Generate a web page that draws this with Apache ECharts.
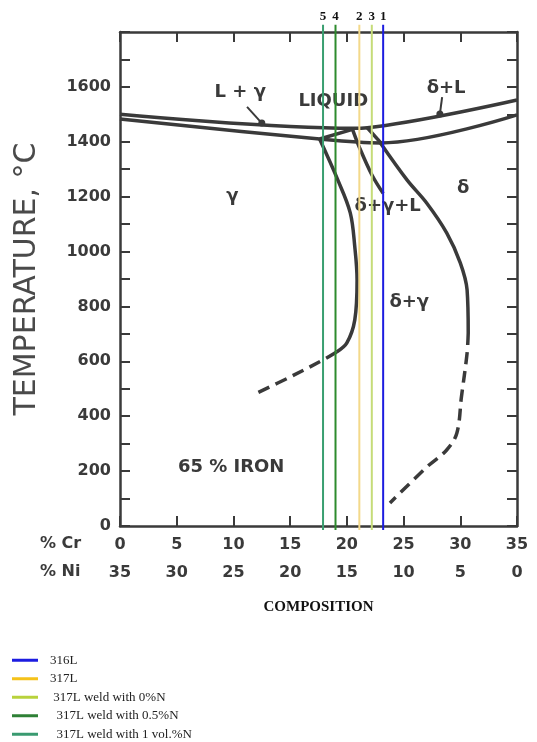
<!DOCTYPE html>
<html>
<head>
<meta charset="utf-8">
<script src="https://cdn.jsdelivr.net/npm/echarts@6/dist/echarts.min.js"></script>
<style>
  html, body { margin: 0; padding: 0; background: #fff; }
  #chart { width: 537px; height: 742px; }
</style>
</head>
<body>
<div id="chart"></div>
<script>
// tick labels
var crTicks = [0, 5, 10, 15, 20, 25, 30, 35]
var niTicks = [35, 30, 25, 20, 15, 10, 5, 0]
var tempTicks = [0, 200, 400, 600, 800, 1000, 1200, 1400, 1600]

// phase boundaries, [% Cr, temperature]
var liquidus = [[0, 1500], [20.5, 1449], [21.8, 1451], [35, 1552]]
var solidus = [[0, 1483], [17.6, 1410], [23.0, 1396], [35, 1498]]
var triangleLeft = [[17.6, 1410], [20.5, 1445]]
var triangleRight = [[21.8, 1451], [23.0, 1396]]
var triangleMid = [[20.5, 1445], [21.1, 1380], [22.2, 1280], [23.2, 1212]]
var gammaSolvus = [[17.6, 1410], [19.2, 1261], [20.3, 1141], [20.7, 1017], [20.9, 896], [20.7, 751], [20.0, 667], [19.1, 634]]
var gammaSolvusDashed = [[19.1, 634], [17.9, 605], [15.0, 543], [12.1, 485]]
var deltaSolvus = [[22.9, 1399], [25.3, 1261], [27.05, 1176], [28.8, 1068], [30.0, 959], [30.6, 860], [30.7, 703]]
var deltaSolvusDashed = [[30.7, 703], [30.6, 630], [30.1, 470], [29.7, 339], [28.8, 277], [27.05, 215], [23.8, 84]]
var arrowLG = [[11.2, 1527], [12.5, 1468]]
var arrowDL = [[28.4, 1563], [28.2, 1501]]

var regionLabels = [
  [10.6, 1581, 'L + γ'],
  [18.8, 1549, 'LIQUID'],
  [28.75, 1596, 'δ+L'],
  [9.9, 1203, 'γ'],
  [30.25, 1232, 'δ'],
  [23.6, 1166, 'δ+γ+L'],
  [25.5, 816, 'δ+γ'],
  [9.8, 215, '65 % IRON']
]

// alloys drawn as vertical lines
var alloyNames = ['316L', '317L', '317L weld with 0%N', '317L weld with 0.5%N', '317L weld with 1 vol.%N']
var alloyNumbers = ['1', '2', '3', '4', '5']
var alloyCr = [23.2, 21.1, 22.2, 19.0, 17.9]
var alloyColors = ['#1c1ce0', '#f3d98a', '#c5dc78', '#2e8b2e', '#3a9f70']
var legendColors = ['#1c1ce0', '#f5c21a', '#b8d23c', '#2e8035', '#3a9a70']
var lineSpan = [-15, 1826]

var ink = '#3a3a3a'
var chart = echarts.init(document.getElementById('chart'))

function boundary(data, dashed) {
  return {
    type: 'line',
    data: data,
    smooth: data.length > 2 ? 0.35 : false,
    symbol: 'none',
    silent: true,
    clip: false,
    lineStyle: { color: ink, width: 3.5, type: dashed ? [12, 7] : 'solid' }
  }
}

function arrow(data) {
  return {
    type: 'line',
    data: [data[0], { value: data[1], symbol: 'circle', symbolSize: 7 }],
    symbol: 'none',
    showSymbol: true,
    silent: true,
    itemStyle: { color: ink },
    lineStyle: { color: ink, width: 2 }
  }
}

var series = [
  boundary(liquidus),
  boundary(solidus),
  boundary(triangleLeft),
  boundary(triangleRight),
  boundary(triangleMid),
  boundary(gammaSolvus),
  boundary(gammaSolvusDashed, true),
  boundary(deltaSolvus),
  boundary(deltaSolvusDashed, true),
  arrow(arrowLG),
  arrow(arrowDL),
  {
    type: 'scatter',
    data: regionLabels,
    symbolSize: 0,
    silent: true,
    itemStyle: { opacity: 1 },
    label: {
      show: true,
      position: 'inside',
      formatter: function (p) { return p.value[2] },
      fontFamily: 'DejaVu Sans',
      fontWeight: 'bold',
      fontSize: 18,
      color: '#3a3a3a',
      opacity: 1
    }
  }
]

alloyNames.forEach(function (name, i) {
  series.push({
    name: name,
    type: 'line',
    data: [[alloyCr[i], lineSpan[1]], [alloyCr[i], lineSpan[0]]],
    symbol: 'none',
    clip: false,
    silent: true,
    itemStyle: { color: legendColors[i] },
    lineStyle: { color: alloyColors[i], width: 2 }
  })
})

series.push({
  type: 'scatter',
  data: alloyCr.map(function (c, i) { return [c, lineSpan[1], alloyNumbers[i]] }),
  symbolSize: 0,
  clip: false,
  silent: true,
  itemStyle: { opacity: 1 },
  label: {
    show: true,
    position: 'top',
    distance: 2,
    formatter: function (p) { return p.value[2] },
    fontFamily: 'Liberation Serif',
    fontWeight: 'bold',
    fontSize: 13,
    color: '#111',
    opacity: 1
  }
})

var legendIndent = { '317L weld with 0%N': ' ', '317L weld with 0.5%N': '  ', '317L weld with 1 vol.%N': '  ' }

var frameLine = { onZero: false, lineStyle: { color: ink, width: 2.5 } }
var frameTick = { inside: true, length: 10, lineStyle: { color: ink, width: 2 } }

var option = {
  animation: false,
  backgroundColor: '#fff',
  grid: { left: 120, right: 20, top: 32, bottom: 216 },
  legend: {
    orient: 'vertical',
    left: 12,
    top: 653,
    padding: 0,
    itemGap: 4,
    itemWidth: 26,
    itemHeight: 3,
    icon: 'rect',
    data: alloyNames.map(function (n, i) { return { name: n, itemStyle: { color: legendColors[i] } } }),
    formatter: function (n) { return (legendIndent[n] || '') + n },
    textStyle: { fontFamily: 'Liberation Serif', fontSize: 13, color: '#222', lineHeight: 14.5, padding: [0, 0, 0, 7] }
  },
  xAxis: [
    {
      type: 'value', min: 0, max: 35, interval: 5,
      name: 'COMPOSITION', nameLocation: 'middle', nameGap: 74,
      nameTextStyle: { fontFamily: 'Liberation Serif', fontWeight: 'bold', fontSize: 15, color: '#111' },
      splitLine: { show: false },
      axisLine: frameLine,
      axisTick: frameTick,
      axisLabel: {
        margin: 5,
        lineHeight: 28,
        fontFamily: 'DejaVu Sans', fontWeight: 'bold', fontSize: 16, color: '#3a3a3a',
        formatter: function (v) {
          var i = crTicks.indexOf(v)
          return i < 0 ? '' : crTicks[i] + '\n' + niTicks[i]
        }
      }
    },
    {
      type: 'value', min: 0, max: 35, interval: 5, position: 'top',
      splitLine: { show: false },
      axisLine: frameLine,
      axisTick: frameTick,
      axisLabel: { show: false }
    }
  ],
  yAxis: [
    {
      type: 'value', min: 0, max: 1800, interval: 100,
      name: 'TEMPERATURE, °C', nameLocation: 'middle', nameGap: 78,
      nameTextStyle: { fontFamily: 'DejaVu Sans', fontSize: 30, color: '#4a4a4a' },
      splitLine: { show: false },
      axisLine: frameLine,
      axisTick: frameTick,
      axisLabel: {
        margin: 9,
        fontFamily: 'DejaVu Sans', fontWeight: 'bold', fontSize: 16, color: '#3a3a3a',
        formatter: function (v) { return tempTicks.indexOf(v) < 0 ? '' : String(v) }
      }
    },
    {
      type: 'value', min: 0, max: 1800, interval: 100, position: 'right',
      splitLine: { show: false },
      axisLine: frameLine,
      axisTick: frameTick,
      axisLabel: { show: false }
    }
  ],
  graphic: [
    { type: 'text', left: 40, top: 536, style: { text: '% Cr', font: 'bold 16px "DejaVu Sans"', fill: '#3a3a3a' } },
    { type: 'text', left: 40, top: 564, style: { text: '% Ni', font: 'bold 16px "DejaVu Sans"', fill: '#3a3a3a' } }
  ],
  series: series
}

chart.setOption(option)
</script>
</body>
</html>
